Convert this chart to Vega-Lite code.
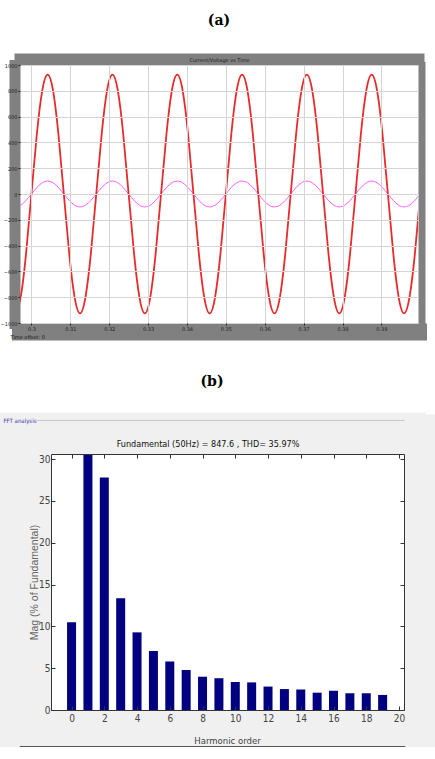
{
  "$schema": "https://vega.github.io/schema/vega-lite/v6.json",
  "background": "white",
  "padding": {"top": 14, "left": 0, "right": 0, "bottom": 0},
  "spacing": 36,
  "config": {
    "view": {"stroke": null, "fill": "white"},
    "axis": {"grid": false, "labelFont": "DejaVu Sans", "titleFont": "DejaVu Sans", "labelOverlap": false, "labelFlush": false},
    "title": {"font": "DejaVu Serif", "fontSize": 14, "fontWeight": "bold", "color": "#000000"}
  },
  "vconcat": [
    {
      "width": 398,
      "height": 258,
      "title": {"text": "(a)", "offset": 29, "frame": "group"},
      "data": {"values": [
        {"t": 0.29583, "r": -925, "m": -100}, {"t": 0.29722, "r": -801, "m": -87}, {"t": 0.29861, "r": -463, "m": -50},
        {"t": 0.3, "r": 0, "m": 0}, {"t": 0.30139, "r": 463, "m": 50}, {"t": 0.30278, "r": 801, "m": 87}, {"t": 0.30417, "r": 925, "m": 100},
        {"t": 0.30556, "r": 801, "m": 87}, {"t": 0.30694, "r": 463, "m": 50}, {"t": 0.30833, "r": 0, "m": 0}, {"t": 0.30972, "r": -463, "m": -50},
        {"t": 0.31111, "r": -801, "m": -87}, {"t": 0.3125, "r": -925, "m": -100}, {"t": 0.31389, "r": -801, "m": -87}, {"t": 0.31528, "r": -463, "m": -50},
        {"t": 0.31667, "r": 0, "m": 0}, {"t": 0.31806, "r": 463, "m": 50}, {"t": 0.31944, "r": 801, "m": 87}, {"t": 0.32083, "r": 925, "m": 100},
        {"t": 0.32222, "r": 801, "m": 87}, {"t": 0.32361, "r": 463, "m": 50}, {"t": 0.325, "r": 0, "m": 0}, {"t": 0.32639, "r": -463, "m": -50},
        {"t": 0.32778, "r": -801, "m": -87}, {"t": 0.32917, "r": -925, "m": -100}, {"t": 0.33056, "r": -801, "m": -87}, {"t": 0.33194, "r": -463, "m": -50},
        {"t": 0.33333, "r": 0, "m": 0}, {"t": 0.33472, "r": 463, "m": 50}, {"t": 0.33611, "r": 801, "m": 87}, {"t": 0.3375, "r": 925, "m": 100},
        {"t": 0.33889, "r": 801, "m": 87}, {"t": 0.34028, "r": 463, "m": 50}, {"t": 0.34167, "r": 0, "m": 0}, {"t": 0.34306, "r": -463, "m": -50},
        {"t": 0.34444, "r": -801, "m": -87}, {"t": 0.34583, "r": -925, "m": -100}, {"t": 0.34722, "r": -801, "m": -87}, {"t": 0.34861, "r": -463, "m": -50},
        {"t": 0.35, "r": 0, "m": 0}, {"t": 0.35139, "r": 463, "m": 50}, {"t": 0.35278, "r": 801, "m": 87}, {"t": 0.35417, "r": 925, "m": 100},
        {"t": 0.35556, "r": 801, "m": 87}, {"t": 0.35694, "r": 463, "m": 50}, {"t": 0.35833, "r": 0, "m": 0}, {"t": 0.35972, "r": -463, "m": -50},
        {"t": 0.36111, "r": -801, "m": -87}, {"t": 0.3625, "r": -925, "m": -100}, {"t": 0.36389, "r": -801, "m": -87}, {"t": 0.36528, "r": -463, "m": -50},
        {"t": 0.36667, "r": 0, "m": 0}, {"t": 0.36806, "r": 463, "m": 50}, {"t": 0.36944, "r": 801, "m": 87}, {"t": 0.37083, "r": 925, "m": 100},
        {"t": 0.37222, "r": 801, "m": 87}, {"t": 0.37361, "r": 463, "m": 50}, {"t": 0.375, "r": 0, "m": 0}, {"t": 0.37639, "r": -463, "m": -50},
        {"t": 0.37778, "r": -801, "m": -87}, {"t": 0.37917, "r": -925, "m": -100}, {"t": 0.38056, "r": -801, "m": -87}, {"t": 0.38194, "r": -463, "m": -50},
        {"t": 0.38333, "r": 0, "m": 0}, {"t": 0.38472, "r": 463, "m": 50}, {"t": 0.38611, "r": 801, "m": 87}, {"t": 0.3875, "r": 925, "m": 100},
        {"t": 0.38889, "r": 801, "m": 87}, {"t": 0.39028, "r": 463, "m": 50}, {"t": 0.39167, "r": 0, "m": 0}, {"t": 0.39306, "r": -463, "m": -50},
        {"t": 0.39444, "r": -801, "m": -87}, {"t": 0.39583, "r": -925, "m": -100}, {"t": 0.39722, "r": -801, "m": -87}, {"t": 0.39861, "r": -463, "m": -50},
        {"t": 0.4, "r": 0, "m": 0}
      ]},
      "layer": [
        {
          "mark": {"type": "line", "color": "#ff5cff", "strokeWidth": 1, "interpolate": "natural", "clip": true},
          "encoding": {
            "x": {"field": "t", "type": "quantitative", "scale": {"domain": [0.29706, 0.39941], "nice": false, "zero": false},
              "axis": {"orient": "bottom", "offset": 8.5, "domain": true, "domainWidth": 17, "domainColor": "#808080", "domainCap": "square", "ticks": false, "labels": false, "grid": false,
                "title": "Time offset: 0", "titleX": -10, "titleY": 4.5, "titleAlign": "left", "titleBaseline": "middle", "titleFontSize": 5, "titleFontWeight": "normal", "titleColor": "#111111", "titleAngle": 0}},
            "y": {"field": "m", "type": "quantitative", "scale": {"domain": [-1000, 1000], "nice": false},
              "axis": {"orient": "left", "offset": 5.5, "domain": true, "domainWidth": 11, "domainColor": "#808080", "domainCap": "square", "ticks": false, "labels": false, "grid": false,
                "title": ".", "titleColor": "#ffffff", "titleX": -13.5, "titleY": 5, "titleAlign": "left", "titleAngle": 0, "titleBaseline": "top", "titleFontSize": 5}}
          }
        },
        {
          "mark": {"type": "line", "color": "#e82a2a", "strokeWidth": 1.8, "interpolate": "natural", "clip": true},
          "encoding": {
            "x": {"field": "t", "type": "quantitative",
              "axis": {"orient": "top", "offset": 6, "domain": true, "domainWidth": 12, "domainColor": "#808080", "domainCap": "square", "ticks": false, "labels": false, "grid": false,
                "title": "Current/Voltage vs Time", "titleX": 199, "titleY": 0, "titleAlign": "center", "titleBaseline": "middle", "titleFontSize": 5, "titleFontWeight": "normal", "titleColor": "#222222"}},
            "y": {"field": "r", "type": "quantitative",
              "axis": {"orient": "right", "offset": 3.5, "domain": true, "domainWidth": 7, "domainColor": "#808080", "domainCap": "square", "ticks": false, "labels": false, "grid": false, "title": null}}
          }
        },
        {
          "mark": {"type": "line", "opacity": 0},
          "encoding": {
            "x": {"field": "t", "type": "quantitative",
              "axis": {"orient": "bottom", "values": [0.3, 0.31, 0.32, 0.33, 0.34, 0.35, 0.36, 0.37, 0.38, 0.39], "format": "~g", "grid": true, "gridColor": "#d4d4d4", "gridWidth": 1,
                "tickSize": 2, "tickColor": "#222222", "domain": false, "labelFontSize": 5, "labelColor": "#222222", "labelPadding": 1, "title": null, "zindex": 1}},
            "y": {"field": "r", "type": "quantitative",
              "axis": {"orient": "left", "values": [-1000, -800, -600, -400, -200, 0, 200, 400, 600, 800, 1000], "format": "d", "grid": true, "gridColor": "#d4d4d4", "gridWidth": 1,
                "tickSize": 2, "tickColor": "#222222", "domain": false, "labelFontSize": 5, "labelColor": "#222222", "labelPadding": 1, "title": null, "zindex": 1}}
          }
        }
      ],
      "resolve": {"axis": {"x": "independent", "y": "independent"}}
    },
    {
      "width": 384,
      "height": 256,
      "title": {"text": "(b)", "offset": 28},
      "data": {"values": [
        {"h": 0, "mag": 10.5}, {"h": 1, "mag": 31.5}, {"h": 2, "mag": 27.8}, {"h": 3, "mag": 13.35}, {"h": 4, "mag": 9.28},
        {"h": 5, "mag": 7.05}, {"h": 6, "mag": 5.8}, {"h": 7, "mag": 4.78}, {"h": 8, "mag": 3.98}, {"h": 9, "mag": 3.8},
        {"h": 10, "mag": 3.35}, {"h": 11, "mag": 3.3}, {"h": 12, "mag": 2.8}, {"h": 13, "mag": 2.5}, {"h": 14, "mag": 2.45},
        {"h": 15, "mag": 2.07}, {"h": 16, "mag": 2.3}, {"h": 17, "mag": 2.0}, {"h": 18, "mag": 2.0}, {"h": 19, "mag": 1.8}
      ]},
      "layer": [
        {
          "mark": {"type": "bar", "color": "#000080", "size": 9, "clip": true},
          "encoding": {
            "x": {"field": "h", "type": "quantitative", "scale": {"domain": [-2.8442, 20], "nice": false, "zero": false},
              "axis": {"orient": "bottom", "offset": 18, "domain": true, "domainWidth": 36, "domainColor": "#f0f0f0", "domainCap": "square", "ticks": false, "labels": false, "grid": false, "title": null}},
            "y": {"field": "mag", "type": "quantitative", "scale": {"domain": [0, 30.6], "nice": false},
              "axis": {"orient": "left", "offset": 9, "domain": true, "domainWidth": 80, "domainColor": "#f0f0f0", "domainCap": "square", "ticks": false, "labels": false, "grid": false,
                "title": ".", "titleColor": "#f0f0f0", "titleX": -10, "titleY": 5, "titleAlign": "left", "titleAngle": 0, "titleBaseline": "top", "titleFontSize": 5}}
          }
        },
        {
          "mark": {"type": "bar", "size": 9, "opacity": 0},
          "encoding": {
            "x": {"field": "h", "type": "quantitative",
              "axis": {"orient": "top", "offset": 21, "domain": true, "domainWidth": 42, "domainColor": "#f0f0f0", "domainCap": "square", "ticks": false, "labels": false, "grid": false, "title": null}},
            "y": {"field": "mag", "type": "quantitative",
              "axis": {"orient": "right", "offset": 40, "domain": true, "domainWidth": 80, "domainColor": "#f0f0f0", "domainCap": "square", "ticks": false, "labels": false, "grid": false,
                "title": ".", "titleColor": "#f0f0f0", "titleX": -8, "titleY": 5, "titleAlign": "right", "titleAngle": 0, "titleBaseline": "top", "titleFontSize": 5}}
          }
        },
        {
          "mark": {"type": "bar", "size": 9, "opacity": 0},
          "encoding": {
            "x": {"field": "h", "type": "quantitative",
              "axis": {"orient": "bottom", "values": [0, 2, 4, 6, 8, 10, 12, 14, 16, 18, 20], "tickSize": -4, "tickColor": "#333333", "domain": true, "domainColor": "#333333", "domainDash": [0, 31, 1000],
                "labelFont": "'DejaVu Sans Condensed', 'Liberation Sans', sans-serif", "labelFontSize": 10, "labelColor": "#444444", "labelPadding": 7,
                "title": "Harmonic order", "titleX": 207, "titleY": 30, "titleAlign": "center", "titleBaseline": "middle", "titleFont": "'DejaVu Sans Condensed', 'Liberation Sans', sans-serif", "titleFontSize": 9.5, "titleFontWeight": "normal", "titleColor": "#444444", "zindex": 1}},
            "y": {"field": "mag", "type": "quantitative",
              "axis": {"orient": "left", "offset": -31, "values": [0, 5, 10, 15, 20, 25, 30], "tickSize": -4, "tickColor": "#333333", "domain": true, "domainColor": "#333333",
                "labelFont": "'DejaVu Sans Condensed', 'Liberation Sans', sans-serif", "labelFontSize": 10, "labelColor": "#444444", "labelPadding": 5,
                "title": "Mag (% of Fundamental)", "titleX": -17, "titleY": 128, "titleAngle": -90, "titleAlign": "center", "titleBaseline": "middle", "titleFont": "Liberation Sans", "titleFontSize": 10.5, "titleFontWeight": "normal", "titleColor": "#666666", "zindex": 1}}
          }
        },
        {
          "mark": {"type": "bar", "size": 9, "opacity": 0},
          "encoding": {
            "x": {"field": "h", "type": "quantitative",
              "axis": {"orient": "top", "values": [0, 2, 4, 6, 8, 10, 12, 14, 16, 18, 20], "tickSize": -4, "tickColor": "#333333", "domain": true, "domainColor": "#333333", "domainDash": [0, 31, 1000], "labels": false,
                "title": "Fundamental (50Hz) = 847.6 , THD= 35.97%", "titleX": 187.5, "titleY": -11, "titleAlign": "center", "titleBaseline": "middle", "titleFont": "'DejaVu Sans Condensed', 'Liberation Sans', sans-serif", "titleFontSize": 9, "titleFontWeight": "normal", "titleColor": "#111111", "zindex": 1}},
            "y": {"field": "mag", "type": "quantitative",
              "axis": {"orient": "right", "values": [0, 5, 10, 15, 20, 25, 30], "tickSize": -4, "tickColor": "#333333", "domain": true, "domainColor": "#333333", "labels": false,
                "title": "FFT analysis", "titleX": -401, "titleY": -34, "titleAngle": 0, "titleAlign": "left", "titleBaseline": "middle", "titleFontSize": 6, "titleFontWeight": "normal", "titleColor": "#3333aa", "titleFont": "'DejaVu Sans Condensed', 'Liberation Sans', sans-serif", "zindex": 1}}
          }
        },
        {
          "mark": {"type": "bar", "size": 9, "opacity": 0},
          "encoding": {
            "x": {"field": "h", "type": "quantitative",
              "axis": {"orient": "bottom", "offset": 36.5, "domain": true, "domainWidth": 1.5, "domainColor": "#222222", "domainCap": "square", "ticks": false, "labels": false, "grid": false, "title": null, "zindex": 1}},
            "y": {"field": "mag", "type": "quantitative", "axis": null}
          }
        },
        {
          "mark": {"type": "bar", "size": 9, "opacity": 0},
          "encoding": {
            "x": {"field": "h", "type": "quantitative",
              "axis": {"orient": "top", "offset": 34, "domain": true, "domainWidth": 1, "domainColor": "#c8c8c8", "domainDash": [0, 16, 1000], "ticks": false, "labels": false, "grid": false, "title": null, "zindex": 1}},
            "y": {"field": "mag", "type": "quantitative", "axis": null}
          }
        }
      ],
      "resolve": {"axis": {"x": "independent", "y": "independent"}}
    }
  ]
}
